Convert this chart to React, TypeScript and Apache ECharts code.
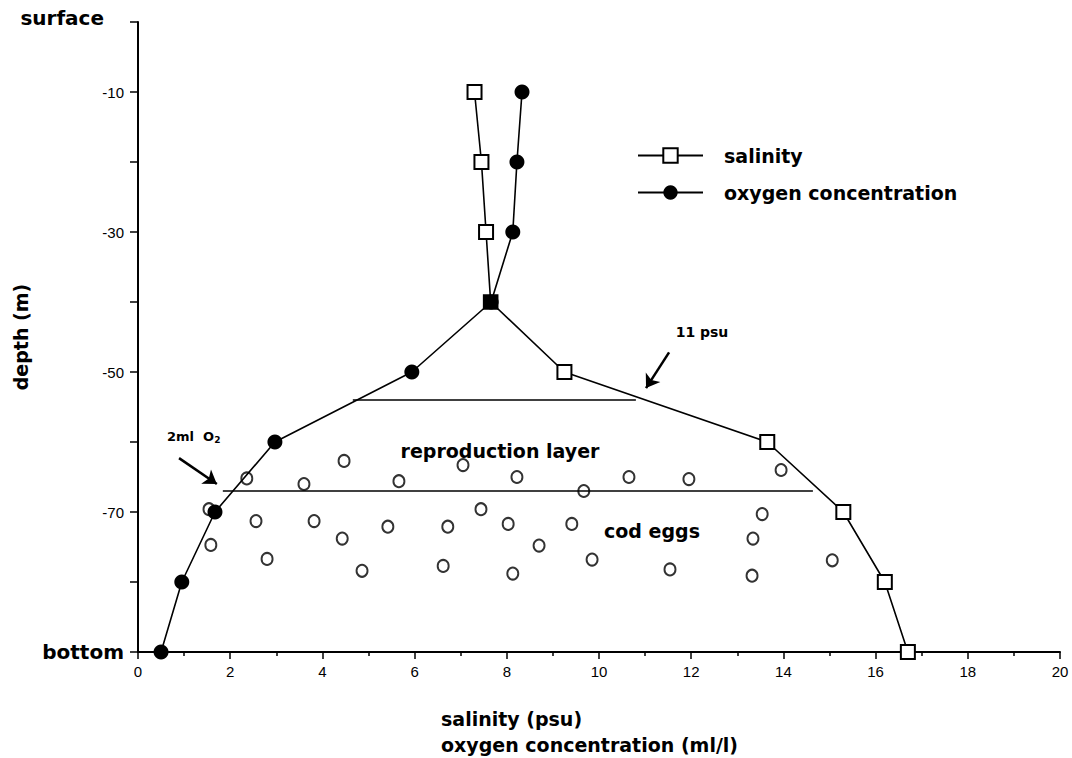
import React, { useEffect, useRef } from "react";
import * as echarts from "echarts";

// ---- data ----
const depths = [-10, -20, -30, -40, -50, -60, -70, -80, -90];
const salinity = [7.3, 7.45, 7.55, 7.65, 9.25, 13.65, 15.3, 16.2, 16.7];
const oxygen = [8.33, 8.22, 8.13, 7.66, 5.94, 2.97, 1.67, 0.95, 0.5];

const eggX = [2.36, 3.6, 4.47, 5.66, 7.05, 1.54, 2.56, 3.82, 5.42, 6.72, 7.44, 1.58, 4.43, 2.8, 4.86, 6.62,
  8.22, 9.67, 10.65, 11.95, 13.95, 8.03, 9.41, 8.7, 13.54, 13.34, 9.85, 8.13, 11.54, 13.32, 15.06];
const eggDepth = [-65.2, -66.0, -62.7, -65.6, -63.3, -69.6, -71.3, -71.3, -72.1, -72.1, -69.6, -74.7, -73.8, -76.7, -78.4, -77.7,
  -65.0, -67.0, -65.0, -65.3, -64.0, -71.7, -71.7, -74.8, -70.3, -73.8, -76.8, -78.8, -78.2, -79.1, -76.9];

const layerTopX = [4.66, 10.8];
const layerTopDepth = -54;
const layerBottomX = [1.84, 14.64];
const layerBottomDepth = -67;

const psuArrow = [[11.52, -47.2], [11.02, -52.3]];
const o2Arrow = [[0.89, -62.3], [1.71, -66.0]];

const yLabelText: Record<string, string> = {
  "0": "{s|surface}",
  "-10": "-10",
  "-30": "-30",
  "-50": "-50",
  "-70": "-70",
  "-90": "{b|bottom}",
};

const BOLD = "DejaVu Sans";
const REG = "Liberation Sans";

export default function App() {
  const ref = useRef<HTMLDivElement>(null);
  useEffect(() => {
    if (!ref.current) return;
    const chart = echarts.init(ref.current, undefined, { renderer: "svg" });
    const black = "#000";
    const option: any = {
      animation: false,
      backgroundColor: "#fff",
      grid: { left: 138, right: 12, top: 22, bottom: 106, containLabel: false, outerBoundsMode: "none" },
      legend: {
        data: ["salinity", "oxygen concentration"],
        orient: "vertical",
        left: 632,
        top: 141,
        itemWidth: 65,
        itemHeight: 18,
        itemGap: 18,
        textStyle: { fontFamily: BOLD, fontWeight: "bold", fontSize: 19, color: black, padding: [0, 0, 0, 16] },
      },
      xAxis: {
        type: "value",
        min: 0,
        max: 20,
        interval: 2,
        axisLine: { show: true, onZero: false, lineStyle: { color: black, width: 2 } },
        axisTick: { show: true, length: 7, lineStyle: { color: black, width: 1.5 } },
        minorTick: { show: true, splitNumber: 2, length: 4, lineStyle: { color: black, width: 1.5 } },
        splitLine: { show: false },
        axisLabel: { color: black, fontSize: 15, fontFamily: REG, margin: 12 },
      },
      yAxis: {
        type: "value",
        min: -90,
        max: 0,
        interval: 10,
        name: "depth (m)",
        nameLocation: "middle",
        nameGap: 108,
        nameMoveOverlap: false,
        nameTextStyle: { fontFamily: BOLD, fontWeight: "bold", fontSize: 19, color: black },
        axisLine: { show: true, onZero: false, lineStyle: { color: black, width: 2 } },
        axisTick: { show: true, length: 8, lineStyle: { color: black, width: 1.5 } },
        splitLine: { show: false },
        axisLabel: {
          color: black,
          fontSize: 15,
          fontFamily: REG,
          margin: 14,
          showMinLabel: true,
          showMaxLabel: true,
          formatter: (v: number) => yLabelText[String(v)] ?? "",
          rich: {
            s: { fontFamily: BOLD, fontWeight: "bold", fontSize: 20, color: black, padding: [0, 20, 8, 0] },
            b: { fontFamily: BOLD, fontWeight: "bold", fontSize: 20, color: black },
          },
        },
      },
      series: [
        {
          name: "oxygen concentration",
          type: "line",
          data: oxygen.map((x, i) => [x, depths[i]]),
          symbol: "circle",
          symbolSize: 15,
          itemStyle: { color: black },
          lineStyle: { color: black, width: 1.6 },
          z: 3,
        },
        {
          name: "salinity",
          type: "line",
          data: salinity.map((x, i) =>
            i === 3
              ? { value: [x, depths[i]], symbol: "rect", itemStyle: { color: black, borderColor: black } }
              : [x, depths[i]]
          ),
          symbol: "emptyRect",
          symbolSize: 14,
          itemStyle: { color: black, borderColor: black, borderWidth: 1.6 },
          lineStyle: { color: black, width: 1.6 },
          z: 4,
        },
        {
          name: "eggs",
          type: "scatter",
          data: eggX.map((x, i) => [x, eggDepth[i]]),
          symbol: "circle",
          symbolSize: [11, 12],
          itemStyle: { color: "rgba(0,0,0,0)", borderColor: black, borderWidth: 2 },
          z: 2,
        },
        {
          name: "layerTop",
          type: "line",
          data: layerTopX.map((x) => [x, layerTopDepth]),
          symbol: "none",
          lineStyle: { color: black, width: 1.6 },
          z: 2,
        },
        {
          name: "layerBottom",
          type: "line",
          data: layerBottomX.map((x) => [x, layerBottomDepth]),
          symbol: "none",
          lineStyle: { color: black, width: 1.6 },
          z: 2,
          markLine: {
            silent: true,
            symbol: ["none", "arrow"],
            symbolSize: 13,
            label: { show: false },
            lineStyle: { color: black, width: 2.5, type: "solid" },
            data: [
              [{ coord: psuArrow[0] }, { coord: psuArrow[1] }],
              [{ coord: o2Arrow[0] }, { coord: o2Arrow[1] }],
            ],
          },
        },
      ],
      graphic: [
        {
          type: "text",
          x: 500,
          y: 451,
          z: 10,
          style: { text: "reproduction layer", align: "center", verticalAlign: "middle", fontFamily: BOLD, fontWeight: "bold", fontSize: 19, fill: black },
        },
        {
          type: "text",
          x: 652,
          y: 531,
          z: 10,
          style: { text: "cod eggs", align: "center", verticalAlign: "middle", fontFamily: BOLD, fontWeight: "bold", fontSize: 19, fill: black },
        },
        {
          type: "text",
          x: 702,
          y: 332,
          z: 10,
          style: { text: "11 psu", align: "center", verticalAlign: "middle", fontFamily: BOLD, fontWeight: "bold", fontSize: 14, fill: black },
        },
        {
          type: "text",
          x: 167,
          y: 436,
          z: 10,
          style: {
            text: "{a|2ml  O}{c|2}",
            align: "left",
            verticalAlign: "middle",
            rich: {
              a: { fontFamily: BOLD, fontWeight: "bold", fontSize: 13, fill: black },
              c: { fontFamily: BOLD, fontWeight: "bold", fontSize: 9, fill: black, padding: [7, 0, 0, 0] },
            },
          },
        },
        {
          type: "text",
          left: 441,
          top: 709,
          style: { text: "salinity (psu)", fontFamily: BOLD, fontWeight: "bold", fontSize: 19, fill: black },
        },
        {
          type: "text",
          left: 441,
          top: 735,
          style: { text: "oxygen concentration (ml/l)", fontFamily: BOLD, fontWeight: "bold", fontSize: 19, fill: black },
        },
      ],
    };
    chart.setOption(option);
    return () => chart.dispose();
  }, []);
  return (
    <div
      ref={ref}
      style={{ position: "fixed", left: 0, top: 0, width: 1072, height: 758, background: "#fff" }}
    />
  );
}
